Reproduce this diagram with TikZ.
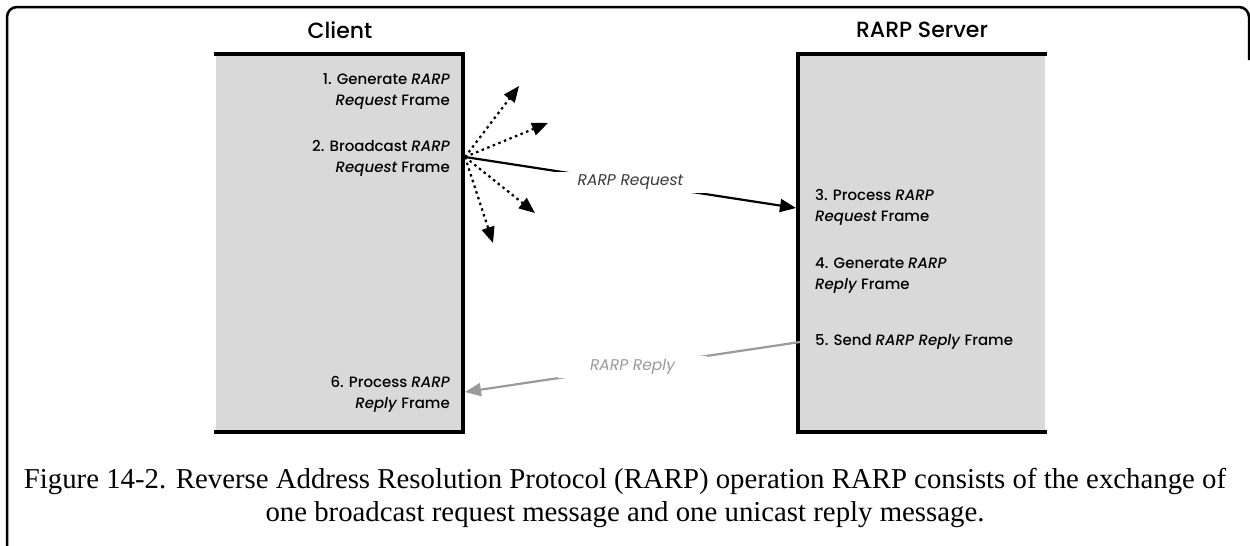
\documentclass[tikz,border=0pt]{standalone}
\usepackage{fontspec}
\setmainfont{Liberation Serif}
\newfontfamily\boxfont{Poppins}[UprightFont=* Medium, ItalicFont=* Medium Italic]
\newfontfamily\lblfont{Poppins}
\usetikzlibrary{arrows.meta}
\definecolor{boxgray}{gray}{0.85}
\definecolor{reqtext}{HTML}{3A3A3A}
\definecolor{replygray}{HTML}{9A9A9A}
\begin{document}
\begin{tikzpicture}[x=1pt,y=-1pt,
  boxarea/.style={fill=boxgray, draw=none, minimum width=247pt, minimum height=378pt, inner sep=0pt, anchor=north west},
  border/.style={line width=4pt, line cap=rect},
  steptext/.style={font=\boxfont\fontsize{15}{21}\selectfont, inner sep=0pt},
  title/.style={font=\boxfont\fontsize{22}{26}\selectfont, inner sep=0pt},
  arr/.style={-{Triangle[length=16pt,width=13pt]}, line width=2.2pt},
  dots/.style={arr, dash pattern=on 2.5pt off 3.5pt},
  msglabel/.style={font=\lblfont\itshape\fontsize{15.5}{17}\selectfont, fill=white, inner ysep=3pt},
  capline/.style={font=\fontsize{28.8}{33}\selectfont, anchor=base, inner sep=0pt},
]
\useasboundingbox (0,0) rectangle (1250,546);
\fill[white] (0,0) rectangle (1250,546);
% outer frame
\draw[line width=2.5pt, rounded corners=10pt] (7,580) -- (7,7) -- (1249,7) -- (1249,60);

% titles
\node[title] (tclient) at (340,30) {Client};
\node[title] (tserver) at (922,30) {RARP Server};

% boxes
\node[boxarea] (client) at (216,54) {};
\node[boxarea] (server) at (798,54) {};
\draw[border] (client.north west) -- (client.north east) -- (client.south east) -- (client.south west);
\draw[border] (server.north east) -- (server.north west) -- (server.south west) -- (server.south east);

% client steps
\node[steptext, anchor=east, align=right] (s1) at (450,91) {1. Generate \textit{RARP}\\\textit{Request} Frame};
\node[steptext, anchor=east, align=right] (s2) at (450,158) {2. Broadcast \textit{RARP}\\\textit{Request} Frame};
\node[steptext, anchor=east, align=right] (s6) at (450,394) {6. Process \textit{RARP}\\\textit{Reply} Frame};

% server steps
\node[steptext, anchor=west, align=left] (s3) at (815,207) {3. Process \textit{RARP}\\\textit{Request} Frame};
\node[steptext, anchor=west, align=left] (s4) at (815,276) {4. Generate \textit{RARP}\\\textit{Reply} Frame};
\node[steptext, anchor=west, align=left] (s5) at (815,342) {5. Send \textit{RARP Reply} Frame};

% connection points
\coordinate (bc) at (465,157);
\coordinate (t1) at (519,86);
\coordinate (t2) at (548,123);
\coordinate (t3) at (535,213);
\coordinate (t4) at (493,243);
\coordinate (srvin) at (796,208);
\coordinate (srvout) at (800,342);
\coordinate (cliin) at (465,392);

% broadcast (dotted) arrows
\draw[dots] (bc) -- (t1);
\draw[dots] (bc) -- (t2);
\draw[dots] (bc) -- (t3);
\draw[dots] (bc) -- (t4);

% request
\draw[arr] (bc) -- (srvin) node[msglabel, pos=0.5, inner xsep=27pt, text=reqtext] (lreq) {RARP Request};

% reply
\draw[arr, draw=replygray, color=replygray] (srvout) -- (cliin) node[msglabel, pos=0.5, inner xsep=32pt, text=replygray] (lrep) {RARP Reply};

% caption
\node[capline] (cap1) at (625,488) {Figure 14-2. Reverse Address Resolution Protocol (RARP) operation RARP consists of the exchange of};
\node[capline] (cap2) at (625,521) {one broadcast request message and one unicast reply message.};
\end{tikzpicture}
\end{document}
